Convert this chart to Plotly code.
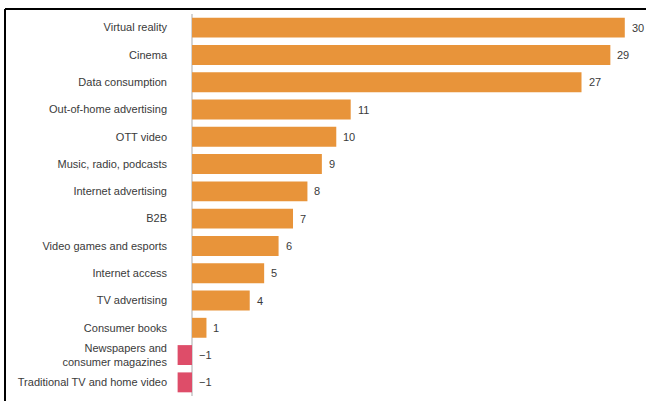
import plotly.graph_objects as go

categories = [
    "Virtual reality",
    "Cinema",
    "Data consumption",
    "Out-of-home advertising",
    "OTT video",
    "Music, radio, podcasts",
    "Internet advertising",
    "B2B",
    "Video games and esports",
    "Internet access",
    "TV advertising",
    "Consumer books",
    "Newspapers and<br>consumer magazines",
    "Traditional TV and home video",
]
values = [30, 29, 27, 11, 10, 9, 8, 7, 6, 5, 4, 1, -1, -1]
value_labels = ["30", "29", "27", "11", "10", "9", "8", "7", "6", "5", "4", "1", "\u22121", "\u22121"]

ORANGE = "#E8943A"
PINK = "#DE4D69"
TEXT = "#3a3a3a"
FONT = "Liberation Sans, Arial, sans-serif"

colors = [ORANGE if v >= 0 else PINK for v in values]

W, H = 646, 401
L, R, T, B = 174, 14, 14, 5
pw, ph = W - L - R, H - T - B

fig = go.Figure()
fig.add_trace(go.Bar(
    y=categories, x=values, orientation="h",
    marker=dict(color=colors, line=dict(width=0)),
    hoverinfo="skip",
))

annotations = [
    dict(x=max(v, 0), y=c, xref="x", yref="y", text=t, showarrow=False,
         xanchor="left", yanchor="middle", xshift=5,
         font=dict(family=FONT, size=11, color=TEXT))
    for c, v, t in zip(categories, values, value_labels)
]

def px_to_paper_x(px):
    return (px - L) / pw

def px_to_paper_y(py):
    return 1 - (py - T) / ph

fig.update_layout(
    width=W, height=H,
    margin=dict(l=L, r=R, t=T, b=B),
    paper_bgcolor="white", plot_bgcolor="white",
    showlegend=False,
    bargap=0.27,
    font=dict(family=FONT, size=11, color=TEXT),
    xaxis=dict(range=[-1.25, 30.5], showgrid=False, showticklabels=False,
               zeroline=True, zerolinecolor="#d4d4d4", zerolinewidth=1.5,
               showline=False, fixedrange=True),
    yaxis=dict(range=[len(categories) - 0.5, -0.5], showgrid=False, showline=False,
               ticks="", ticklabelstandoff=6, fixedrange=True),
    annotations=annotations,
    shapes=[
        dict(type="line", xref="paper", yref="paper",
             x0=px_to_paper_x(5), x1=px_to_paper_x(647),
             y0=px_to_paper_y(9), y1=px_to_paper_y(9),
             line=dict(color="black", width=2)),
        dict(type="line", xref="paper", yref="paper",
             x0=px_to_paper_x(5), x1=px_to_paper_x(5),
             y0=px_to_paper_y(9), y1=px_to_paper_y(402),
             line=dict(color="black", width=2)),
    ],
)

fig.write_html("out.html")
